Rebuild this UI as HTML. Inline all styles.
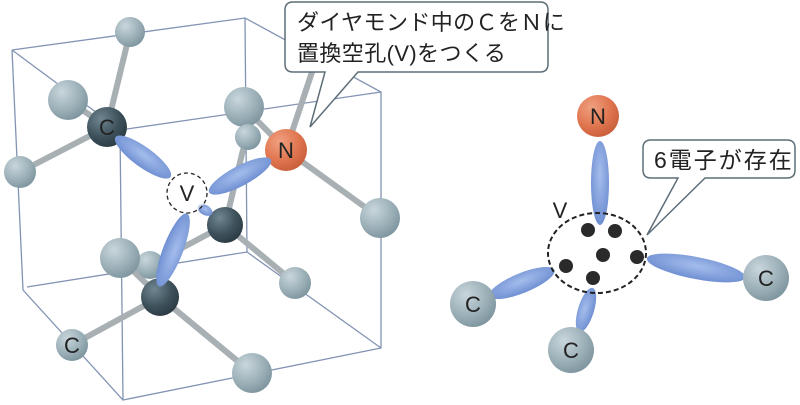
<!DOCTYPE html><html><head><meta charset="utf-8"><style>body{margin:0;background:#fff}svg{display:block}text{font-family:"Liberation Sans","Noto Sans CJK JP",sans-serif;fill:#222}</style></head><body>
<svg width="800" height="405" viewBox="0 0 800 405" xmlns="http://www.w3.org/2000/svg">
<defs>
<radialGradient id="g" cx="0.35" cy="0.3" r="0.75"><stop offset="0" stop-color="#c9d6dc"/><stop offset="0.6" stop-color="#9cb0b8"/><stop offset="1" stop-color="#7d949e"/></radialGradient>
<radialGradient id="d" cx="0.35" cy="0.3" r="0.75"><stop offset="0" stop-color="#6f8590"/><stop offset="0.6" stop-color="#3e525c"/><stop offset="1" stop-color="#2b3a42"/></radialGradient>
<radialGradient id="n" cx="0.35" cy="0.3" r="0.75"><stop offset="0" stop-color="#f0a080"/><stop offset="0.6" stop-color="#e07650"/><stop offset="1" stop-color="#c85e3a"/></radialGradient>
<radialGradient id="l" cx="0.5" cy="0.4" r="0.6"><stop offset="0" stop-color="#a4bdec"/><stop offset="1" stop-color="#6f8fd2"/></radialGradient>
</defs>
<g stroke="#8393b3" stroke-width="1.3" fill="none">
<polyline points="12,50 245,18 381,92 381,348 123,400 23,290 12,50"/>
<polyline points="12,50 120,130 381,92"/>
<line x1="120" y1="130" x2="123" y2="400"/>
<line x1="245" y1="18" x2="247" y2="252"/>
<polyline points="27,287 247,252 381,348"/>
</g>
<g stroke="#a9b0b4" stroke-width="6" stroke-linecap="round">
<line x1="130" y1="32" x2="107" y2="127"/><line x1="68" y1="100" x2="107" y2="127"/><line x1="107" y1="127" x2="20" y2="172"/>
<line x1="312" y1="72" x2="286" y2="150"/><line x1="244" y1="107" x2="286" y2="150"/><line x1="286" y1="150" x2="380" y2="218"/>
<line x1="243" y1="150" x2="225" y2="225"/><line x1="225" y1="225" x2="295" y2="283"/><line x1="225" y1="225" x2="150" y2="265"/>
<line x1="160" y1="297" x2="120" y2="258"/><line x1="160" y1="297" x2="72" y2="345"/><line x1="160" y1="297" x2="252" y2="373"/>
</g>
<circle cx="130" cy="32" r="15" fill="url(#g)"/><circle cx="68" cy="100" r="20" fill="url(#g)"/><circle cx="20" cy="172" r="16" fill="url(#g)"/>
<circle cx="244" cy="107" r="20" fill="url(#g)"/><circle cx="248" cy="137" r="13" fill="url(#g)"/><circle cx="380" cy="218" r="20" fill="url(#g)"/>
<circle cx="150" cy="265" r="14" fill="url(#g)"/><circle cx="120" cy="258" r="20" fill="url(#g)"/><circle cx="295" cy="283" r="16" fill="url(#g)"/>
<circle cx="72" cy="345" r="16" fill="url(#g)"/><circle cx="252" cy="373" r="20" fill="url(#g)"/>
<circle cx="107" cy="127" r="20" fill="url(#d)"/><circle cx="225" cy="225" r="18" fill="url(#d)"/><circle cx="160" cy="297" r="19" fill="url(#d)"/>
<circle cx="286" cy="150" r="21" fill="url(#n)"/>
<ellipse cx="143" cy="157" rx="34" ry="10" transform="rotate(36 143 157)" fill="url(#l)"/>
<ellipse cx="240" cy="176" rx="35" ry="10" transform="rotate(-28 240 176)" fill="url(#l)"/>
<ellipse cx="205" cy="210" rx="8" ry="5" transform="rotate(30 205 210)" fill="url(#l)"/>
<ellipse cx="173" cy="250" rx="39" ry="10" transform="rotate(111 173 250)" fill="url(#l)"/>
<circle cx="187" cy="193" r="20" fill="#fff" fill-opacity="0.6" stroke="#222" stroke-width="1.3" stroke-dasharray="4,3"/>
<text x="187" y="201" font-size="22" text-anchor="middle">V</text>
<text x="107" y="135" font-size="22" text-anchor="middle">C</text>
<text x="72" y="353" font-size="22" text-anchor="middle">C</text>
<text x="286" y="158" font-size="22" text-anchor="middle">N</text>
<path d="M293,2 H540 Q548,2 548,10 V64 Q548,72 540,72 H358 L310,127 L325,72 H293 Q285,72 285,64 V10 Q285,2 293,2 Z" fill="#fff" stroke="#5e6e78" stroke-width="1.5"/>
<text x="297" y="30" font-size="22" letter-spacing="0.4">ダイヤモンド中のＣをＮに</text>
<text x="297" y="61" font-size="22" letter-spacing="0.4">置換空孔(V)をつくる</text>
<ellipse cx="600" cy="183" rx="9" ry="42" fill="url(#l)"/>
<ellipse cx="696" cy="268" rx="50" ry="11" transform="rotate(11 696 268)" fill="url(#l)"/>
<ellipse cx="522" cy="283" rx="35" ry="10" transform="rotate(-22 522 283)" fill="url(#l)"/>
<ellipse cx="586" cy="310" rx="23" ry="8" transform="rotate(-73 586 310)" fill="url(#l)"/>
<ellipse cx="597" cy="253" rx="49" ry="40" fill="none" stroke="#222" stroke-width="2" stroke-dasharray="5,3"/>
<g fill="#2a2a2a"><circle cx="588" cy="230" r="7"/><circle cx="615" cy="231" r="7"/><circle cx="603" cy="255" r="7"/><circle cx="637" cy="257" r="7"/><circle cx="566" cy="266" r="7"/><circle cx="593" cy="278" r="7"/></g>
<text x="560" y="218" font-size="22" text-anchor="middle">V</text>
<circle cx="598" cy="116" r="21" fill="url(#n)"/><text x="598" y="124" font-size="22" text-anchor="middle">N</text>
<circle cx="766" cy="278" r="23" fill="url(#g)"/><text x="766" y="286" font-size="22" text-anchor="middle">C</text>
<circle cx="473" cy="304" r="23" fill="url(#g)"/><text x="473" y="312" font-size="22" text-anchor="middle">C</text>
<circle cx="571" cy="350" r="23" fill="url(#g)"/><text x="571" y="358" font-size="22" text-anchor="middle">C</text>
<path d="M651,140 H787 Q795,140 795,148 V170 Q795,178 787,178 H705 L647,235 L678,178 H651 Q643,178 643,170 V148 Q643,140 651,140 Z" fill="#fff" stroke="#5e6e78" stroke-width="1.5"/>
<text x="654" y="168" font-size="23" letter-spacing="2">6電子が存在</text>
</svg></body></html>
